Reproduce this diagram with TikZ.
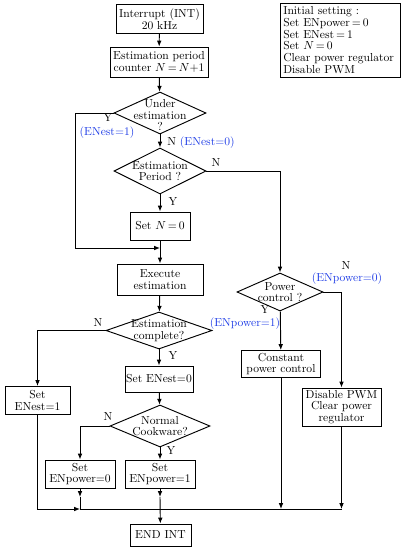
\documentclass[tikz,border=0pt]{standalone}
\usepackage{xcolor}
\usepackage{amsmath}
\usepackage{tikz}
\usetikzlibrary{positioning, arrows.meta, shapes.geometric}
\definecolor{enblue}{RGB}{30,60,230}

\begin{document}
\begin{tikzpicture}[
    x=0.03cm, y=-0.03cm,
    every node/.style={font=\fontsize{9.9}{10}\selectfont, inner sep=1pt},
    box/.style={draw, line width=0.8pt, align=center},
    dia/.style={draw, line width=0.8pt, diamond, inner sep=0pt},
    dtext/.style={align=center},
    en/.style={text=enblue},
    arr/.style={draw, line width=0.8pt, -{Latex[length=5pt, width=4pt]}},
    ln/.style={draw, line width=0.8pt}
]
\useasboundingbox (0,0) rectangle (406,550);

\node[box, minimum width=2.61cm, minimum height=0.87cm] (int) at (159.5,19) {Interrupt (INT)\\20 kHz};
\node[box, minimum width=2.94cm, minimum height=0.9cm] (cnt) at (159,62) {Estimation period\\counter $N$\,=\,$N$+1};
\node[box, align=left, text width=3.4cm, inner xsep=0.1cm, minimum height=2.22cm] (init) at (340,40)
    {Initial setting :\\Set ENpower\,=\,0\\Set ENest\,=\,1\\Set $N$\,=\,0\\Clear power regulator\\Disable PWM};

\node[dia, minimum width=2.76cm, minimum height=1.26cm] (under) at (160,113) {};
\node[dtext] (undert) at (160,115) {Under\\estimation\\?};
\node[dia, minimum width=2.76cm, minimum height=1.38cm] (estper) at (160,171) {};
\node[dtext] (estpert) at (estper) {Estimation\\Period ?};
\node[box, minimum width=1.8cm, minimum height=0.84cm] (setN) at (160,226) {Set $N$\,=\,0};
\node[box, minimum width=2.58cm, minimum height=0.93cm] (exec) at (160,279.5) {Execute\\estimation};
\node[dia, minimum width=3.18cm, minimum height=1.11cm] (estc) at (159,330.5) {};
\node[dtext] (estct) at (estc) {Estimation\\complete?};
\node[box, minimum width=1.98cm, minimum height=0.78cm] (setE0) at (159,379) {Set ENest=0};
\node[box, minimum width=1.95cm, minimum height=0.84cm] (setE1) at (37.5,400.5) {Set\\ENest=1};
\node[dia, minimum width=3.0cm, minimum height=1.26cm] (normal) at (160,426) {};
\node[dtext] (normalt) at (normal) {Normal\\Cookware?};
\node[box, minimum width=2.1cm, minimum height=0.84cm] (p0) at (80,474) {Set\\ENpower=0};
\node[box, minimum width=2.1cm, minimum height=0.84cm] (p1) at (160,474) {Set\\ENpower=1};
\node[box, minimum width=1.83cm, minimum height=0.66cm] (endint) at (160.5,535) {END INT};

\node[dia, minimum width=2.58cm, minimum height=1.14cm] (pwr) at (280,292) {};
\node[dtext] (pwrt) at (pwr) {Power\\control ?};
\node[box, minimum width=2.37cm, minimum height=0.81cm] (const) at (281,364) {Constant\\power control};
\node[box, minimum width=2.37cm, minimum height=1.14cm] (dis) at (341.5,407) {Disable PWM\\Clear power\\regulator};

\coordinate (lp) at (75,248);
\coordinate (jn1) at (160,248);
\coordinate (m0) at (80,497);
\coordinate (m1) at (160,497);
\coordinate (b0) at (80,509);
\coordinate (b2) at (281,509);
\coordinate (b3) at (341.5,509);

\draw[arr] (int) -- (cnt);
\draw[arr] (cnt) -- (under);
\draw[arr] (under) -- (estper);
\draw[arr] (estper) -- (setN);
\draw[arr] (under.west) -| (lp) -- (jn1);
\draw[arr] (setN) -- (exec);
\draw[arr] (exec) -- (estc);
\draw[arr] (estc) -- (setE0);
\draw[arr] (estc.west) -| (setE1);
\draw[arr] (setE0) -- (normal);
\draw[arr] (normal) -- (p1);
\draw[arr] (normal.west) -| (p0);
\draw[arr] (estper.east) -| (pwr);
\draw[arr] (pwr) -- (const);
\draw[arr] (pwr.east) -| (dis);
\draw[arr] (setE1) |- (b0);
\draw[arr] (p0) -- (m0);
\draw[ln] (m0) -- (b0);
\draw[arr] (p1) -- (m1);
\draw[arr] (m1) -- (endint);
\draw[arr] (const) -- (b2);
\draw[arr] (dis) -- (b3);
\draw[ln] (b0) -- (b3);

\node (yu) at (108,118) {Y};
\node[en] (yu2) at (107,133) {(ENest=1)};
\node[anchor=west] (nu) at (166,143) {N \textcolor{enblue}{(ENest=0)}};
\node (np) at (216,163) {N};
\node (yp) at (173,202) {Y};
\node (npw) at (346,266) {N};
\node[en] (npw2) at (347,279) {(ENpower=0)};
\node (ypw) at (265,310) {Y};
\node[en] (ypw2) at (245,324) {(ENpower=1)};
\node (nc) at (98,323) {N};
\node (yc) at (173,356) {Y};
\node (nn) at (108,417) {N};
\node (yn) at (171,451) {Y};
\end{tikzpicture}
\end{document}
